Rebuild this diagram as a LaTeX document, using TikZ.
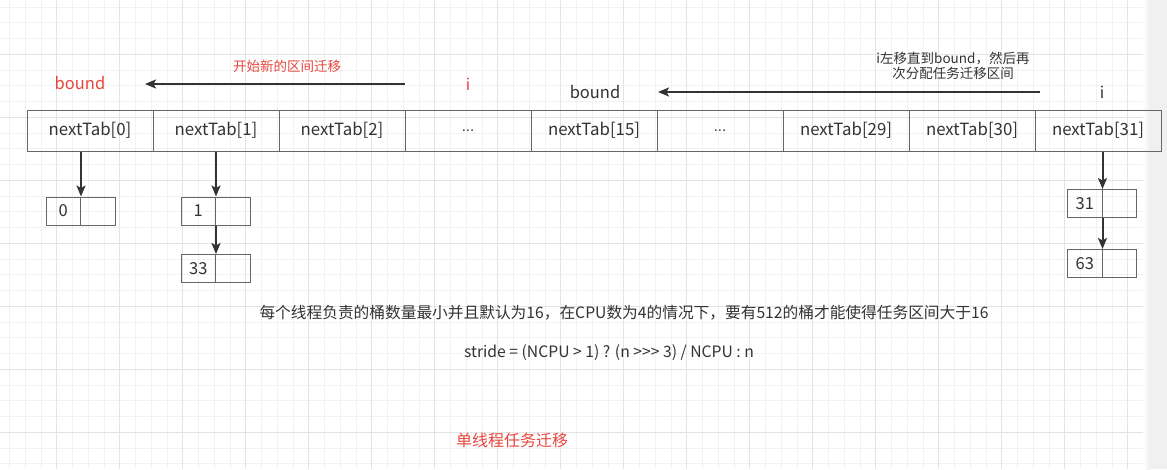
\documentclass[tikz,border=0pt]{standalone}
\usepackage{fontspec}
\setmainfont{Noto Sans CJK SC}
\newfontfamily\latinfont{Liberation Sans}
\usetikzlibrary{arrows.meta}
\definecolor{redtxt}{HTML}{E8453C}
\definecolor{txt}{HTML}{333333}
\definecolor{cellline}{HTML}{666666}
\definecolor{gridminor}{HTML}{F2F2F2}
\definecolor{gridmajor}{HTML}{E4E4E4}
\definecolor{sidegrey}{HTML}{F0F0F0}
\newcommand{\fs}[1]{\fontsize{#1}{#1}\selectfont}
\begin{document}
\begin{tikzpicture}[x=1pt,y=-1pt,
  cell/.style={draw=cellline, line width=1pt, minimum width=126pt, minimum height=41pt, inner sep=0pt, text=txt, font=\fs{16.8}},
  half/.style={draw=cellline, line width=1pt, minimum width=34.5pt, minimum height=28pt, inner sep=0pt, text=txt, font=\fs{16.5}},
  arr/.style={draw=txt, line width=2pt, -{Stealth[length=11pt,width=9pt,inset=2.5pt]}},
  redlbl/.style={text=redtxt, inner sep=0pt},
  darklbl/.style={text=txt, inner sep=0pt}]
\useasboundingbox (0,0) rectangle (1167,469);
\fill[white] (0,0) rectangle (1167,469);
% grid
\begin{scope}
\clip (0,0) rectangle (1148,469);
\foreach \i in {0,...,73} {\draw[gridminor, line width=0.8pt] ({9.45+\i*15.75},0) -- ({9.45+\i*15.75},469);}
\foreach \j in {0,...,29} {\draw[gridminor, line width=0.8pt] (0,{7.05+\j*15.75}) -- (1167,{7.05+\j*15.75});}
\foreach \i in {0,...,18} {\draw[gridmajor, line width=0.8pt] ({56.7+\i*63},0) -- ({56.7+\i*63},469);}
\foreach \j in {0,...,7} {\draw[gridmajor, line width=0.8pt] (0,{54.3+\j*63}) -- (1167,{54.3+\j*63});}
\end{scope}
\shade[left color=white, right color=sidegrey] (1143,0) rectangle (1150,469);
\fill[sidegrey] (1150,0) rectangle (1167,469);
% array
\node[cell] (c0) at (90,130.5) {nextTab[0]};
\node[cell] (c1) at (216,130.5) {nextTab[1]};
\node[cell] (c2) at (342,130.5) {nextTab[2]};
\node[cell] (c3) at (468,130.5) {\latinfont\fs{15}...};
\node[cell] (c4) at (594,130.5) {nextTab[15]};
\node[cell] (c5) at (720,130.5) {\latinfont\fs{15}...};
\node[cell] (c6) at (846,130.5) {nextTab[29]};
\node[cell] (c7) at (972,130.5) {nextTab[30]};
\node[cell] (c8) at (1098,130.5) {nextTab[31]};
% buckets
\node[half] (b0a) at (63.25,211) {0};
\node[half] (b0b) at (97.75,211) {};
\node[half] (b1a) at (198.25,211) {1};
\node[half] (b1b) at (232.75,211) {};
\node[half] (b33a) at (198.25,268.5) {33};
\node[half] (b33b) at (232.75,268.5) {};
\node[half] (b31a) at (1084.75,203.5) {31};
\node[half] (b31b) at (1119.25,203.5) {};
\node[half] (b63a) at (1084.75,263.5) {63};
\node[half] (b63b) at (1119.25,263.5) {};
\draw[arr] (b0a.north east |- c0.south) -- (b0a.north east);
\draw[arr] (b1a.north east |- c1.south) -- (b1a.north east);
\draw[arr] (b1a.south east) -- (b33a.north east);
\draw[arr] (b31a.north east |- c8.south) -- (b31a.north east);
\draw[arr] (b31a.south east) -- (b63a.north east);
% top labels
\node[redlbl, font=\fs{16.5}] (bd1) at (80,83) {bound};
\node[redlbl, font=\fs{13.5}] (t1) at (287,66) {开始新的区间迁移};
\node[redlbl, font=\fs{16}] (i1) at (468,84) {i};
\coordinate (a1s) at (405,84);
\coordinate (a1e) at (145,84);
\draw[arr] (a1s) -- (a1e);
\node[darklbl, font=\fs{16.5}] (bd2) at (595,92) {bound};
\node[darklbl, font=\fs{13.5}, align=center] (t2) at (953,66) {i左移直到bound，然后再\\[2pt]次分配任务迁移区间};
\node[darklbl, font=\fs{16}] (i2) at (1102,92) {i};
\coordinate (a2s) at (1040,92);
\coordinate (a2e) at (658,92);
\draw[arr] (a2s) -- (a2e);
% bottom texts
\node[darklbl, font=\fs{15.7}] (note) at (624,313) {每个线程负责的桶数量最小并且默认为16，在CPU数为4的情况下，要有512的桶才能使得任务区间大于16};
\node[darklbl, font=\fs{15.7}] (stride) at (609,353) {stride = (NCPU > 1) ? (n >{}>{}> 3) / NCPU : n};
\node[redlbl, font=\fs{16}] (title) at (512,440) {单线程任务迁移};
\end{tikzpicture}
\end{document}
